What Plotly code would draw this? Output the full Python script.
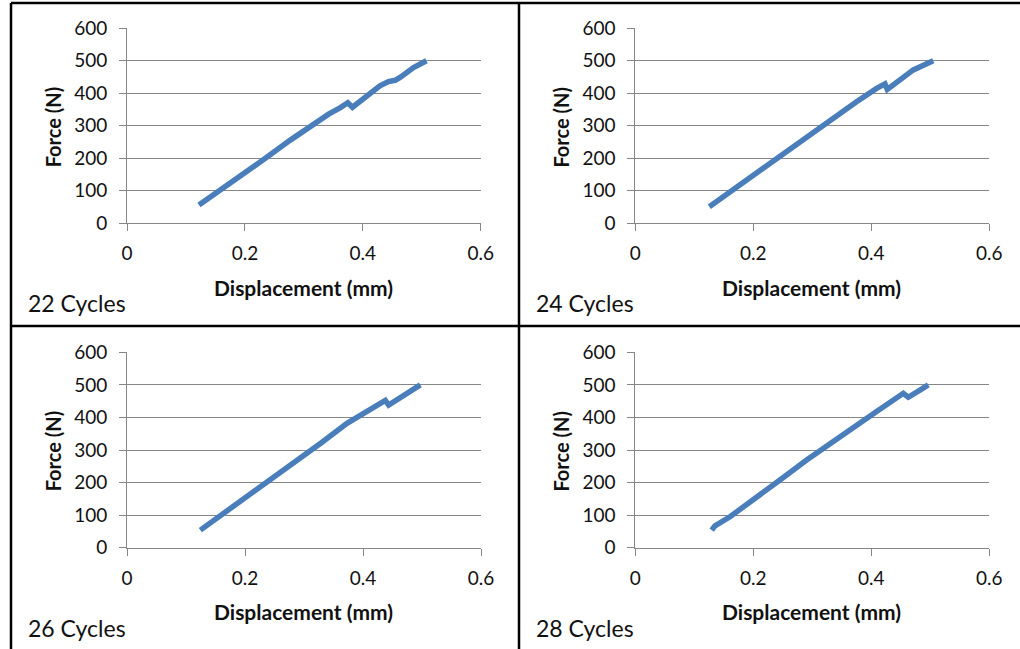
import plotly.graph_objects as go

# ---- data ----
labels = ["22 Cycles", "24 Cycles", "26 Cycles", "28 Cycles"]

disp_22 = [0.122, 0.147, 0.181, 0.201, 0.237, 0.277, 0.322, 0.342, 0.362, 0.3746, 0.3825, 0.401, 0.415, 0.429, 0.4435, 0.4548, 0.4633, 0.486, 0.508]
force_22 = [56, 87, 130, 154, 203, 256, 313, 336, 356, 371, 357, 382, 403, 423, 436, 440, 449, 479, 500]

disp_24 = [0.1254, 0.1605, 0.200, 0.2452, 0.2904, 0.330, 0.375, 0.409, 0.4232, 0.4271, 0.4486, 0.4712, 0.505]
force_24 = [51, 97, 149, 205, 265, 318, 374, 415, 429, 412, 441, 472, 500]

disp_26 = [0.1243, 0.160, 0.2006, 0.245, 0.2881, 0.330, 0.3729, 0.4011, 0.4294, 0.4379, 0.4435, 0.4633, 0.4972]
force_26 = [54, 100, 152, 210, 269, 323, 382, 413, 445, 452, 438, 462, 500]

disp_28 = [0.1294, 0.135, 0.1605, 0.200, 0.2452, 0.2904, 0.330, 0.3751, 0.409, 0.4542, 0.4627, 0.4825, 0.4966]
force_28 = [54, 67, 95, 146, 208, 269, 320, 377, 418, 474, 462, 484, 500]

x_ticks = [0, 0.2, 0.4, 0.6]
x_tick_text = ["0", "0.2", "0.4", "0.6"]
y_ticks = [0, 100, 200, 300, 400, 500, 600]

series = [(disp_22, force_22), (disp_24, force_24), (disp_26, force_26), (disp_28, force_28)]

W, H = 1020, 649
# plot-area pixel boxes (left, right, top, bottom)
boxes = [
    (127.0, 480.7, 28.3, 223.3),
    (635.3, 989.3, 28.3, 223.3),
    (127.0, 481.0, 352.3, 547.7),
    (635.3, 989.3, 352.3, 547.7),
]

FONT = "Lato"
LINE_COLOR = "#4A7EBB"
GRID = "#868686"
TXT = "#111111"

fig = go.Figure()
layout = dict(
    width=W, height=H,
    margin=dict(l=0, r=0, t=0, b=0, pad=0, autoexpand=False),
    paper_bgcolor="white", plot_bgcolor="white", showlegend=False,
    font=dict(family=FONT, size=19, color=TXT),
)
annotations = []
for i, ((xs, ys), (l, r, t, b)) in enumerate(zip(series, boxes)):
    n = "" if i == 0 else str(i + 1)
    fig.add_trace(go.Scatter(x=xs, y=ys, mode="lines",
                             line=dict(color=LINE_COLOR, width=5.5),
                             xaxis="x" + n, yaxis="y" + n, hoverinfo="skip"))
    layout["xaxis" + n] = dict(
        domain=[l / W, r / W], range=[0, 0.6], anchor="y" + n, automargin=False,
        tickvals=x_ticks, ticktext=x_tick_text, showgrid=False, zeroline=False,
        showline=True, linecolor=GRID, linewidth=1,
        ticks="outside", ticklen=7, tickcolor=GRID, ticklabelstandoff=6,
        tickfont=dict(family=FONT, size=19, color=TXT),
    )
    layout["yaxis" + n] = dict(
        domain=[1 - b / H, 1 - t / H], range=[0, 600], anchor="x" + n, automargin=False,
        tickvals=y_ticks, showgrid=True, gridcolor=GRID, gridwidth=1, zeroline=False,
        showline=True, linecolor=GRID, linewidth=1,
        ticks="outside", ticklen=7, tickcolor=GRID, ticklabelstandoff=8,
        tickfont=dict(family=FONT, size=19, color=TXT),
    )
    # axis titles
    annotations.append(dict(text="<b>Displacement (mm)</b>", xref="paper", yref="paper",
                            x=(l + 176) / W, y=1 - (b + 64) / H, showarrow=False,
                            xanchor="center", yanchor="middle",
                            font=dict(family=FONT, size=21, color=TXT)))
    annotations.append(dict(text="<b>Force (N)</b>", xref="paper", yref="paper",
                            x=(l - 74) / W, y=1 - (t + 99) / H, showarrow=False,
                            textangle=-90, xanchor="center", yanchor="middle",
                            font=dict(family=FONT, size=20, color=TXT)))
    annotations.append(dict(text=labels[i], xref="paper", yref="paper",
                            x=(l - 101) / W, y=1 - (b + 80) / H, showarrow=False,
                            xanchor="left", yanchor="middle",
                            font=dict(family=FONT, size=23, color=TXT)))

layout["annotations"] = annotations
border = dict(color="black", width=2.5)
layout["shapes"] = [
    dict(type="line", xref="paper", yref="paper", x0=11 / W, x1=1, y0=1 - 3 / H, y1=1 - 3 / H, line=border),
    dict(type="line", xref="paper", yref="paper", x0=11 / W, x1=11 / W, y0=0, y1=1 - 3 / H, line=border),
    dict(type="line", xref="paper", yref="paper", x0=519 / W, x1=519 / W, y0=0, y1=1 - 3 / H, line=border),
    dict(type="line", xref="paper", yref="paper", x0=11 / W, x1=1, y0=1 - 326 / H, y1=1 - 326 / H, line=border),
]
fig.update_layout(**layout)
fig.write_html(
    "out.html",
    config={"displayModeBar": False},
    post_script="document.body.style.margin='0';document.body.style.padding='0';document.body.style.overflow='hidden';document.documentElement.style.overflow='hidden';",
)
